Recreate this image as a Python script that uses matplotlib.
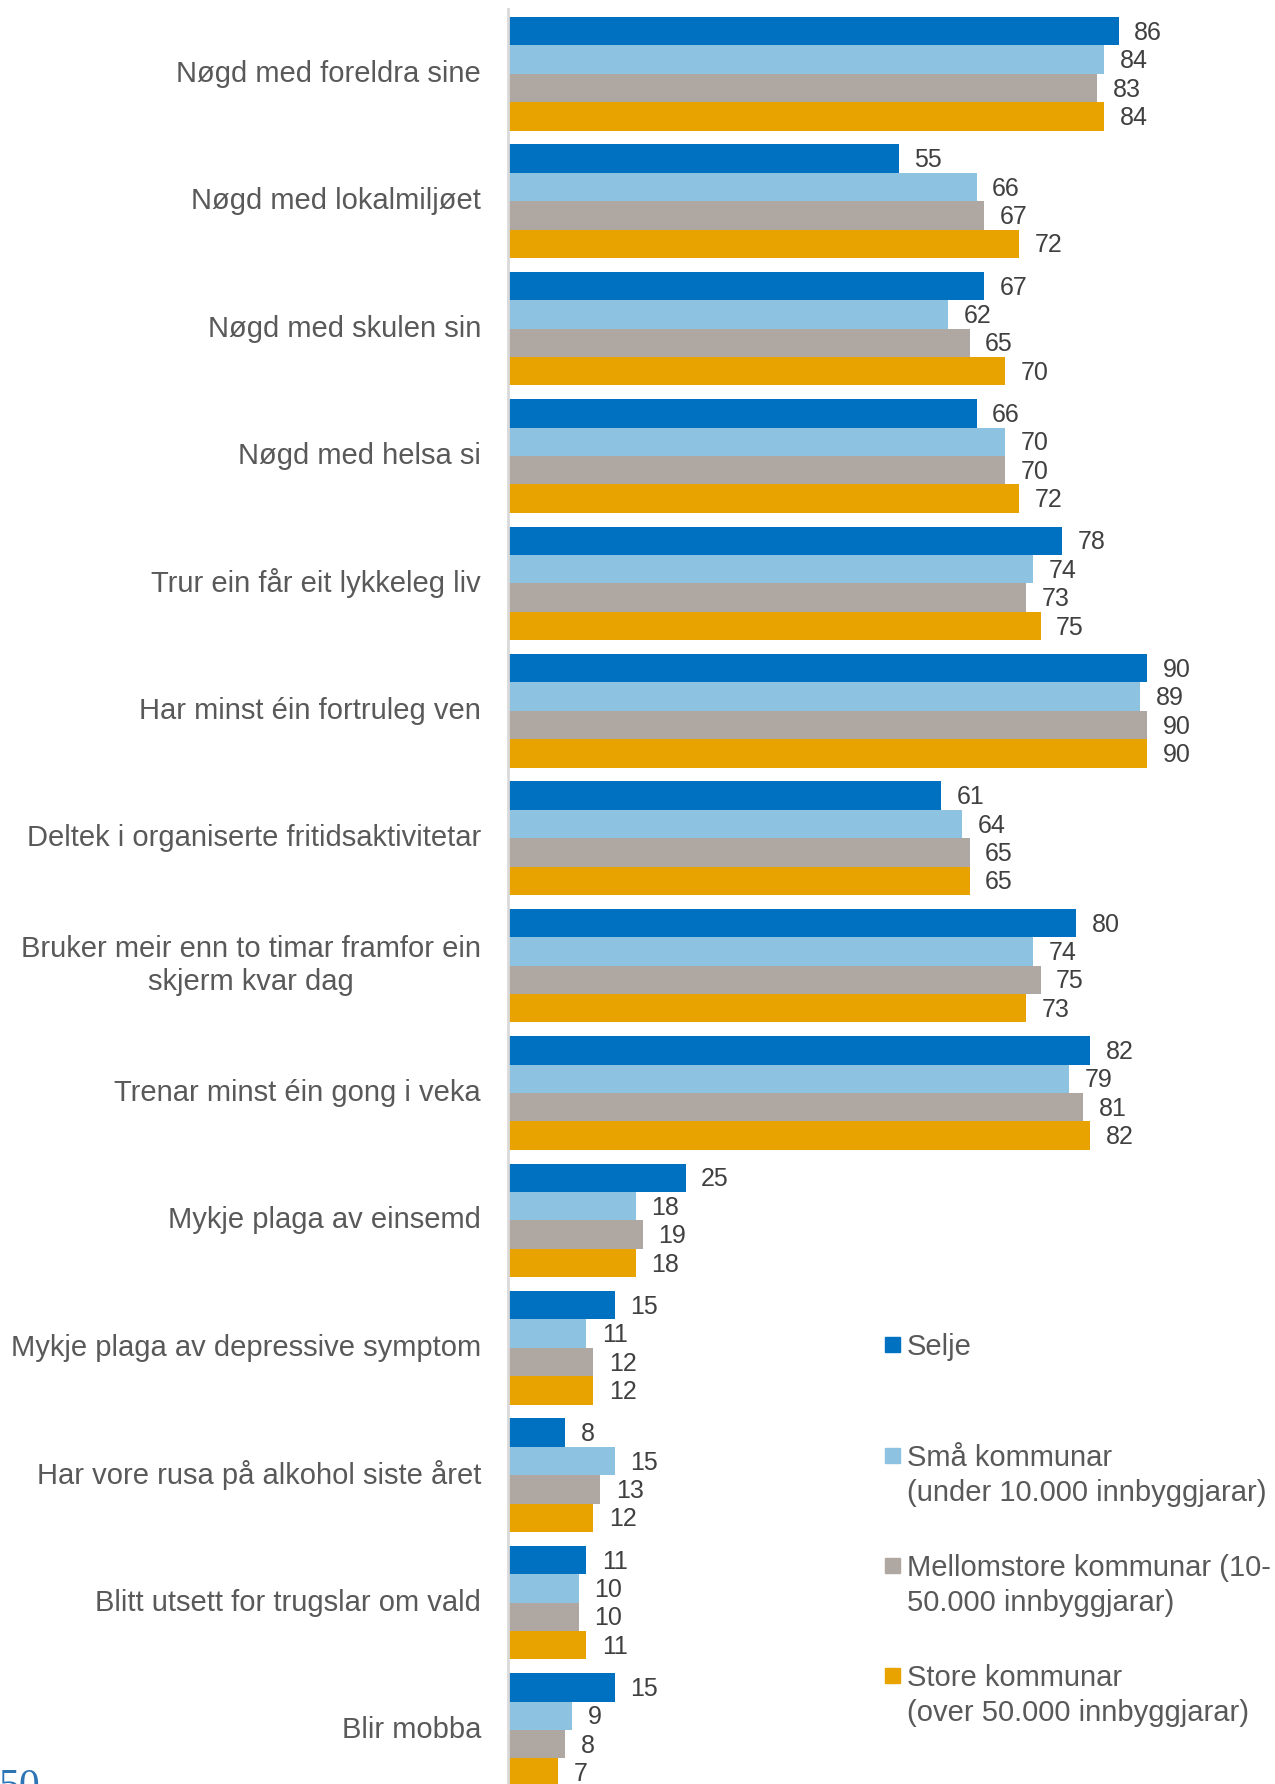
import matplotlib

matplotlib.use("Agg")

import matplotlib.pyplot as plt
from matplotlib.patches import Rectangle
import numpy as np

plt.rcParams["font.family"] = ["Liberation Sans", "DejaVu Sans"]

categories = [
    "Nøgd med foreldra sine",
    "Nøgd med lokalmiljøet",
    "Nøgd med skulen sin",
    "Nøgd med helsa si",
    "Trur ein får eit lykkeleg liv",
    "Har minst éin fortruleg ven",
    "Deltek i organiserte fritidsaktivitetar",
    "Bruker meir enn to timar framfor ein\nskjerm kvar dag",
    "Trenar minst éin gong i veka",
    "Mykje plaga av einsemd",
    "Mykje plaga av depressive symptom",
    "Har vore rusa på alkohol siste året",
    "Blitt utsett for trugslar om vald",
    "Blir mobba",
]
selje = [86, 55, 67, 66, 78, 90, 61, 80, 82, 25, 15, 8, 11, 15]
smaa = [84, 66, 62, 70, 74, 89, 64, 74, 79, 18, 11, 15, 10, 9]
mellomstore = [83, 67, 65, 70, 73, 90, 65, 75, 81, 19, 12, 13, 10, 8]
store = [84, 72, 70, 72, 75, 90, 65, 73, 82, 18, 12, 12, 11, 7]
series_names = [
    "Selje",
    "Små kommunar\n(under 10.000 innbyggjarar)",
    "Mellomstore kommunar (10-\n50.000 innbyggjarar)",
    "Store kommunar\n(over 50.000 innbyggjarar)",
]

colors = ["#0070C0", "#8DC3E0", "#AFA7A1", "#E8A300"]
label_color = "#595959"
value_color = "#404040"

W, H = 1275, 1784
fig = plt.figure(figsize=(W / 100, H / 100), dpi=100)

axis_x = 508
px_per_unit = 7.1
group_px = 127.4
axes_top_px = 9
ax = fig.add_axes([axis_x / W, 0, 1 - axis_x / W, 1 - axes_top_px / H])

bar_h = 0.223
first_top = 8 / group_px
ax.set_xlim(0, (W - axis_x) / px_per_unit)
ax.set_ylim((H - axes_top_px) / group_px - first_top, -first_top)

groups = np.arange(len(categories))
all_series = [selje, smaa, mellomstore, store]
for j, (vals, col) in enumerate(zip(all_series, colors)):
    y = groups + j * bar_h + bar_h / 2
    ax.barh(y, vals, height=bar_h, color=col, edgecolor="none")
    for yy, v in zip(y, vals):
        ax.text(v + 2.2, yy + 0.012, str(v), va="center", ha="left",
                fontsize=18, color=value_color)

for i, cat in enumerate(categories):
    ax.text(-27 / px_per_unit, i + 2 * bar_h, cat, ha="right", va="center",
            multialignment="center", fontsize=21, color=label_color,
            linespacing=1.2)

for s in ["top", "right", "bottom"]:
    ax.spines[s].set_visible(False)
ax.spines["left"].set_color("#D9D9D9")
ax.spines["left"].set_linewidth(2)
ax.set_xticks([])
ax.set_yticks([])

# legend drawn by hand to match the spacing of the original
legend_rows_px = [1344, 1455, 1565, 1675]
sq = 15
for name, col, ypx in zip(series_names, colors, legend_rows_px):
    fig.patches.append(Rectangle((885 / W, 1 - (ypx + sq / 2) / H), sq / W, sq / H,
                                 transform=fig.transFigure, color=col))
    fig.text(907 / W, 1 - (ypx - 11) / H, name, ha="left", va="top",
             fontsize=21, color=label_color, linespacing=1.3)

# page number, cut off at the bottom edge as in the source
fig.text(-2 / W, 1 - 1769 / H, "50", ha="left", va="top", fontsize=30,
         color="#2E75B6", family=["Liberation Serif", "DejaVu Serif"])

fig.savefig("out.png", dpi=100)
plt.close(fig)
